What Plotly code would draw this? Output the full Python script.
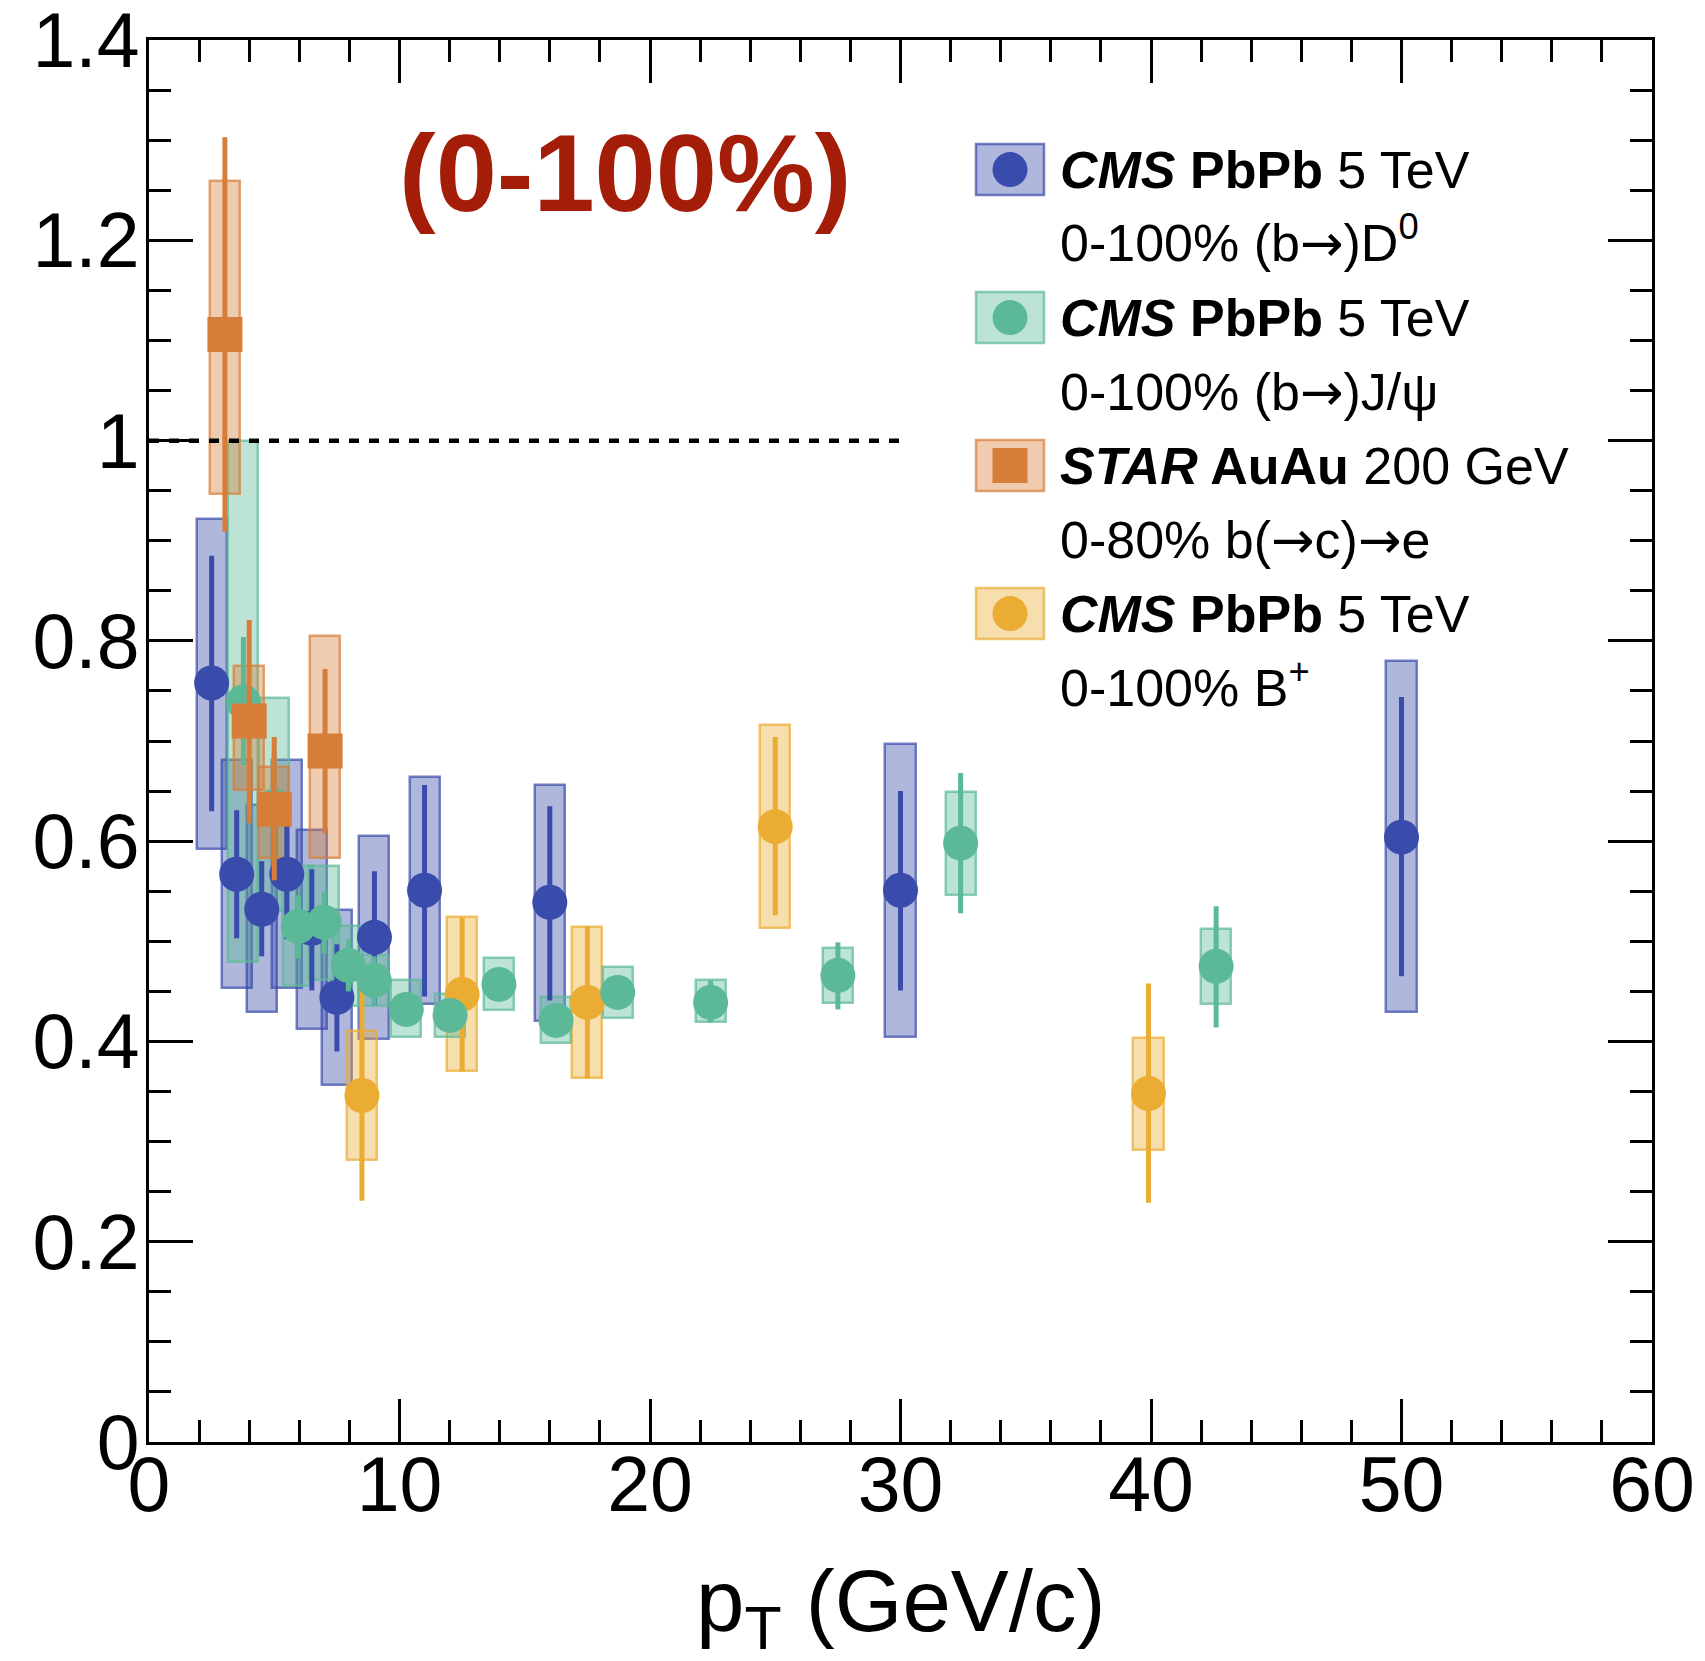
import plotly.graph_objects as go
import numpy as np

# ---------------- data ----------------
# CMS PbPb 5 TeV, 0-100% (b->)D0
d0_x = [2.5, 3.5, 4.5, 5.5, 6.5, 7.5, 9.0, 11.0, 16.0, 30.0, 50.0]
d0_y = [0.758, 0.567, 0.532, 0.567, 0.513, 0.444, 0.504, 0.551, 0.539, 0.551, 0.604]
d0_stat_hi = [0.885, 0.631, 0.580, 0.632, 0.572, 0.497, 0.570, 0.656, 0.635, 0.650, 0.744]
d0_stat_lo = [0.630, 0.503, 0.485, 0.502, 0.451, 0.390, 0.437, 0.445, 0.441, 0.451, 0.465]
d0_sys_hi = [0.922, 0.681, 0.636, 0.681, 0.611, 0.531, 0.605, 0.664, 0.656, 0.697, 0.780]
d0_sys_lo = [0.592, 0.453, 0.429, 0.453, 0.412, 0.357, 0.402, 0.437, 0.420, 0.404, 0.429]

# CMS PbPb 5 TeV, 0-100% (b->)J/psi
jp_x = [3.77, 5.0, 5.96, 6.99, 7.96, 8.99, 10.27, 12.02, 13.97, 16.25, 18.71, 22.42, 27.5, 32.4, 42.6]
jp_y = [0.739, 0.635, 0.515, 0.519, 0.476, 0.461, 0.432, 0.426, 0.457, 0.421, 0.449, 0.439, 0.466, 0.598, 0.475]
jp_stat_hi = [0.804, 0.690, 0.546, 0.550, 0.502, 0.485, 0.445, 0.440, 0.470, 0.435, 0.463, 0.461, 0.499, 0.668, 0.535]
jp_stat_lo = [0.676, 0.580, 0.483, 0.488, 0.450, 0.437, 0.419, 0.412, 0.444, 0.407, 0.435, 0.419, 0.432, 0.528, 0.414]
jp_sys_hi = [1.000, 0.743, 0.575, 0.575, 0.515, 0.486, 0.461, 0.447, 0.483, 0.444, 0.474, 0.461, 0.493, 0.649, 0.512]
jp_sys_lo = [0.479, 0.530, 0.455, 0.461, 0.435, 0.435, 0.404, 0.404, 0.431, 0.398, 0.423, 0.419, 0.438, 0.546, 0.437]

# STAR AuAu 200 GeV, 0-80% b(->c)->e
st_x = [3.03, 4.0, 5.0, 7.03]
st_y = [1.106, 0.720, 0.632, 0.690]
st_stat_hi = [1.303, 0.821, 0.704, 0.772]
st_stat_lo = [0.909, 0.618, 0.561, 0.608]
st_sys_hi = [1.259, 0.775, 0.674, 0.805]
st_sys_lo = [0.947, 0.651, 0.583, 0.583]

# CMS PbPb 5 TeV, 0-100% B+
bp_x = [8.5, 12.5, 17.5, 25.0, 39.9]
bp_y = [0.346, 0.447, 0.439, 0.6145, 0.348]
bp_stat_hi = [0.451, 0.524, 0.515, 0.704, 0.458]
bp_stat_lo = [0.241, 0.370, 0.363, 0.526, 0.239]
bp_sys_hi = [0.410, 0.524, 0.514, 0.716, 0.403]
bp_sys_lo = [0.282, 0.371, 0.364, 0.513, 0.292]

x_ticks = [0, 10, 20, 30, 40, 50, 60]
x_ticktext = ["0", "10", "20", "30", "40", "50", "60"]
y_ticks = [0, 0.2, 0.4, 0.6, 0.8, 1.0, 1.2, 1.4]
y_ticktext = ["0", "0.2", "0.4", "0.6", "0.8", "1", "1.2", "1.4"]

unity_y = 1.0
unity_x_end = 30.0

ARROW = '<span style="font-family:DejaVu Sans">→</span>'
legend_rows = [
    ("<b><i>CMS</i> PbPb</b> 5 TeV", f"0-100% (b{ARROW})D<sup>0</sup>"),
    ("<b><i>CMS</i> PbPb</b> 5 TeV", f"0-100% (b{ARROW})J/ψ"),
    ("<b><i>STAR</i> AuAu</b> 200 GeV", f"0-80% b({ARROW}c){ARROW}e"),
    ("<b><i>CMS</i> PbPb</b> 5 TeV", "0-100% B<sup>+</sup>"),
]
centrality_label = "(0-100%)"
x_title = "p<sub>T</sub> (GeV/c)"

# ---------------- styling ----------------
FONT = "Liberation Sans, Arial, Helvetica, sans-serif"
W, H = 1705, 1661
ML, MR, MT, MB = 149, 53, 40, 219
PW, PH = W - ML - MR, H - MT - MB

series = [
    dict(x=d0_x, y=d0_y, shi=d0_stat_hi, slo=d0_stat_lo, yhi=d0_sys_hi, ylo=d0_sys_lo,
         rgb=(58, 76, 171), symbol="circle"),
    dict(x=bp_x, y=bp_y, shi=bp_stat_hi, slo=bp_stat_lo, yhi=bp_sys_hi, ylo=bp_sys_lo,
         rgb=(234, 172, 50), symbol="circle"),
    dict(x=jp_x, y=jp_y, shi=jp_stat_hi, slo=jp_stat_lo, yhi=jp_sys_hi, ylo=jp_sys_lo,
         rgb=(91, 185, 151), symbol="circle"),
    dict(x=st_x, y=st_y, shi=st_stat_hi, slo=st_stat_lo, yhi=st_sys_hi, ylo=st_sys_lo,
         rgb=(214, 125, 58), symbol="square"),
]
legend_order = [0, 2, 3, 1]  # D0, J/psi, STAR, B+


def rgba(c, a):
    return f"rgba({c[0]},{c[1]},{c[2]},{a})"


def rgb(c):
    return f"rgb({c[0]},{c[1]},{c[2]})"


BOX_W = 1.2
fig = go.Figure()

# systematic boxes
for s in series:
    lo = np.array(s["ylo"])
    hi = np.array(s["yhi"])
    fig.add_trace(go.Bar(
        x=s["x"], y=hi - lo, base=lo, width=BOX_W,
        marker=dict(color=rgba(s["rgb"], 0.4), line=dict(color=rgba(s["rgb"], 0.7), width=2.5)),
        showlegend=False, hoverinfo="skip"))

# points with statistical errors
for s in series:
    y = np.array(s["y"])
    fig.add_trace(go.Scatter(
        x=s["x"], y=s["y"], mode="markers",
        marker=dict(symbol=s["symbol"], size=35, color=rgb(s["rgb"]), line=dict(width=0)),
        error_y=dict(type="data", symmetric=False,
                     array=np.array(s["shi"]) - y, arrayminus=y - np.array(s["slo"]),
                     color=rgb(s["rgb"]), thickness=5, width=0),
        showlegend=False))

shapes = []
# unity line
shapes.append(dict(type="line", xref="x", yref="y", x0=0, x1=unity_x_end, y0=unity_y, y1=unity_y,
                   line=dict(color="black", width=4.5, dash="10px,10px")))

annotations = []
# legend (manual, ROOT style)
row0_px = 169.6
row_step = 74.0
box_cx_px = 1010
text_x_px = 1058


def px_to_paper_x(px):
    return (px - ML) / PW


def py_to_paper_y(py):
    return (MT + PH - py) / PH


for i, si in enumerate(legend_order):
    s = series[si]
    py1 = row0_px + 2 * i * row_step
    py2 = py1 + row_step
    xa = px_to_paper_x(box_cx_px)
    ya = py_to_paper_y(py1)
    shapes.append(dict(type="rect", xref="paper", yref="paper", xsizemode="pixel", ysizemode="pixel",
                       xanchor=xa, yanchor=ya, x0=-34, x1=34, y0=-25.5, y1=25.5,
                       fillcolor=rgba(s["rgb"], 0.4), line=dict(color=rgba(s["rgb"], 0.7), width=2.5),
                       layer="above"))
    shapes.append(dict(type="circle" if s["symbol"] == "circle" else "rect",
                       xref="paper", yref="paper", xsizemode="pixel", ysizemode="pixel",
                       xanchor=xa, yanchor=ya, x0=-17.5, x1=17.5, y0=-17.5, y1=17.5,
                       fillcolor=rgb(s["rgb"]), line=dict(width=0), layer="above"))
    l1, l2 = legend_rows[i]
    annotations.append(dict(xref="paper", yref="paper", x=px_to_paper_x(text_x_px), y=ya,
                            xanchor="left", yanchor="middle", showarrow=False, text=l1,
                            font=dict(family=FONT, size=52, color="black")))
    annotations.append(dict(xref="paper", yref="paper", x=px_to_paper_x(text_x_px),
                            y=py_to_paper_y(py2), xanchor="left", yanchor="middle",
                            yshift=4 if "<sup>" in l2 else 0,
                            showarrow=False, text=l2, font=dict(family=FONT, size=52, color="black")))

# centrality label
annotations.append(dict(xref="paper", yref="paper", x=px_to_paper_x(625), y=py_to_paper_y(172),
                        xanchor="center", yanchor="middle", showarrow=False,
                        text=f"<b>{centrality_label}</b>",
                        font=dict(family=FONT, size=110, color="rgb(163,29,8)")))

# x-axis title
annotations.append(dict(xref="paper", yref="paper", x=0.5, y=0, xanchor="center", yanchor="top",
                        yshift=-108, showarrow=False, text=x_title,
                        font=dict(family=FONT, size=87, color="black")))

axis_common = dict(showline=True, linecolor="black", linewidth=3, mirror="ticks",
                   ticks="inside", tickcolor="black", tickwidth=2.5,
                   showgrid=False, zeroline=False, automargin=False,
                   ticklabeloverflow="allow",
                   tickfont=dict(family=FONT, size=77, color="black"))

fig.update_layout(
    width=W, height=H,
    margin=dict(l=ML, r=MR, t=MT, b=MB, pad=0),
    paper_bgcolor="white", plot_bgcolor="white",
    barmode="overlay", bargap=0,
    showlegend=False,
    shapes=shapes, annotations=annotations,
    xaxis=dict(range=[0, 60], tickvals=x_ticks, ticktext=x_ticktext, ticklen=43,
               ticklabelstandoff=-26,
               minor=dict(ticks="inside", dtick=2, ticklen=22, tickwidth=2.5, tickcolor="black"),
               **axis_common),
    yaxis=dict(range=[0, 1.4001], tickvals=y_ticks, ticktext=y_ticktext, ticklen=44,
               ticklabelstandoff=-9,
               minor=dict(ticks="inside", dtick=0.05, ticklen=22, tickwidth=2.5, tickcolor="black"),
               **axis_common),
)

fig.write_html("out.html")
